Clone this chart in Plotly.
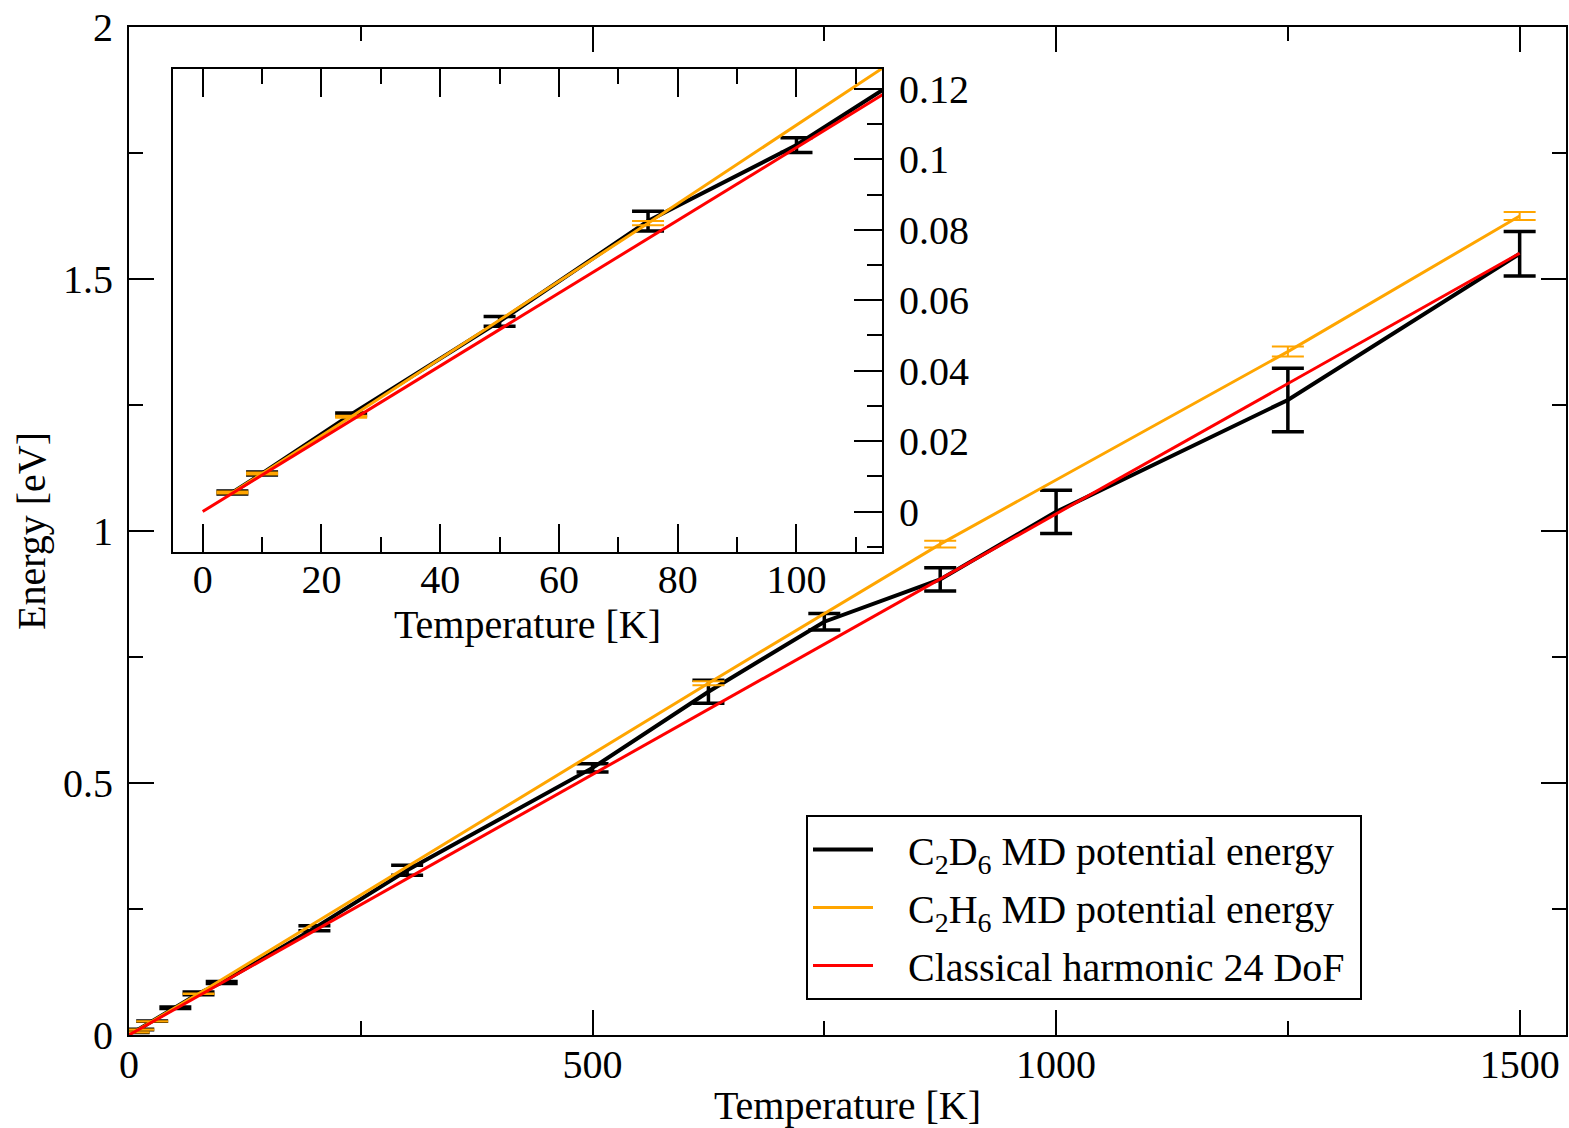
import plotly.graph_objects as go

# ---- data ----
T_d = [5, 10, 25, 50, 75, 100, 200, 300, 500, 625, 750, 875, 1000, 1250, 1500]
E_d = [0.0054, 0.0108, 0.0276, 0.0540, 0.0825, 0.1041, 0.212, 0.327, 0.530, 0.681, 0.820, 0.904, 1.038, 1.260, 1.550]
err_d = [0.0004, 0.0004, 0.0004, 0.0014, 0.0028, 0.0021, 0.005, 0.010, 0.008, 0.023, 0.0165, 0.023, 0.043, 0.063, 0.044]

T_h = [5, 10, 25, 75, 625, 875, 1250, 1500]
E_h = [0.0054, 0.0108, 0.0269, 0.0819, 0.698, 0.974, 1.356, 1.625]
err_h = [0.0003, 0.0003, 0.0003, 0.0006, 0.004, 0.0066, 0.010, 0.008]

T_c = [0, 1500]
E_c = [0.0, 1.551]

PAD = "\u00a0\u00a0\u00a0"
END = "\u00a0"
names = [PAD + "C<sub>2</sub>D<sub>6</sub> MD potential energy" + END,
         PAD + "C<sub>2</sub>H<sub>6</sub> MD potential energy" + END,
         PAD + "Classical harmonic 24 DoF" + END]

FONT = "Liberation Serif"
FS = 40
BLACK = "#000000"
ORANGE = "#FFA500"
RED = "#FF0000"

fig = go.Figure()

def add_set(xa, ya, show):
    fig.add_trace(go.Scatter(x=T_d, y=E_d, mode="lines", name=names[0], legendgroup="d",
                             line=dict(color=BLACK, width=4),
                             error_y=dict(type="data", array=err_d, color=BLACK, thickness=3.5, width=16),
                             xaxis=xa, yaxis=ya, showlegend=show))
    fig.add_trace(go.Scatter(x=T_h, y=E_h, mode="lines", name=names[1], legendgroup="h",
                             line=dict(color=ORANGE, width=3),
                             error_y=dict(type="data", array=err_h, color=ORANGE, thickness=2, width=16),
                             xaxis=xa, yaxis=ya, showlegend=show))
    fig.add_trace(go.Scatter(x=T_c, y=E_c, mode="lines", name=names[2], legendgroup="c",
                             line=dict(color=RED, width=3),
                             xaxis=xa, yaxis=ya, showlegend=show))

add_set("x", "y", True)
add_set("x2", "y2", False)

W, H = 1569, 1128
L, R, Tm, B = 129, 3, 27, 93
pw, ph = W - L - R, H - Tm - B

def px_x(p):
    return (p - L) / pw

def px_y(p):
    return (H - B - p) / ph

axis_common = dict(showline=True, linecolor="black", linewidth=2, ticks="inside",
                   tickcolor="black", tickwidth=2, showgrid=False, zeroline=False,
                   automargin=False,
                   tickfont=dict(family=FONT, size=FS, color="black"))

fig.update_layout(
    width=W, height=H,
    margin=dict(l=L, r=R, t=Tm, b=B, autoexpand=False),
    paper_bgcolor="white", plot_bgcolor="white",
    font=dict(family=FONT, size=FS, color="black"),
    xaxis=dict(range=[0, 1550], tickvals=[0, 500, 1000, 1500], ticklen=25, mirror="ticks",
               minor=dict(tickvals=[250, 750, 1250], ticklen=14, ticks="inside", tickcolor="black", tickwidth=2),
               ticklabelstandoff=-7,
               title=dict(text="Temperature [K]", font=dict(family=FONT, size=FS), standoff=11),
               **axis_common),
    yaxis=dict(range=[0, 2], tickvals=[0, 0.5, 1, 1.5, 2], ticktext=["0", "0.5", "1", "1.5", "2"],
               ticklen=25, mirror="ticks",
               minor=dict(tickvals=[0.25, 0.75, 1.25, 1.75], ticklen=14, ticks="inside", tickcolor="black", tickwidth=2),
               ticklabelstandoff=6,
               title=dict(text="Energy [eV]", font=dict(family=FONT, size=FS), standoff=5),
               **axis_common),
    xaxis2=dict(range=[-5, 114.4], domain=[px_x(173), px_x(882)], anchor="y2",
                tickvals=[0, 20, 40, 60, 80, 100], ticklen=28, mirror="ticks",
                minor=dict(tickvals=[10, 30, 50, 70, 90, 110], ticklen=15, ticks="inside", tickcolor="black", tickwidth=2),
                ticklabelstandoff=-9,
                title=dict(text="Temperature [K]", font=dict(family=FONT, size=FS), standoff=1),
                **axis_common),
    yaxis2=dict(range=[-0.0115, 0.1257], domain=[px_y(552), px_y(69)], anchor="x2", side="right",
                tickvals=[0, 0.02, 0.04, 0.06, 0.08, 0.1, 0.12],
                ticktext=["0", "0.02", "0.04", "0.06", "0.08", "0.1", "0.12"],
                ticklen=28, mirror=True,
                minor=dict(tickvals=[-0.01, 0.01, 0.03, 0.05, 0.07, 0.09, 0.11], ticklen=15, ticks="inside",
                           tickcolor="black", tickwidth=2),
                ticklabelstandoff=7,
                **axis_common),
    legend=dict(x=px_x(806), y=px_y(815), xanchor="left", yanchor="top",
                bgcolor="white", bordercolor="black", borderwidth=2,
                font=dict(family=FONT, size=FS, color="black"),
                tracegroupgap=3, itemwidth=60),
)

fig.write_html("out.html")
